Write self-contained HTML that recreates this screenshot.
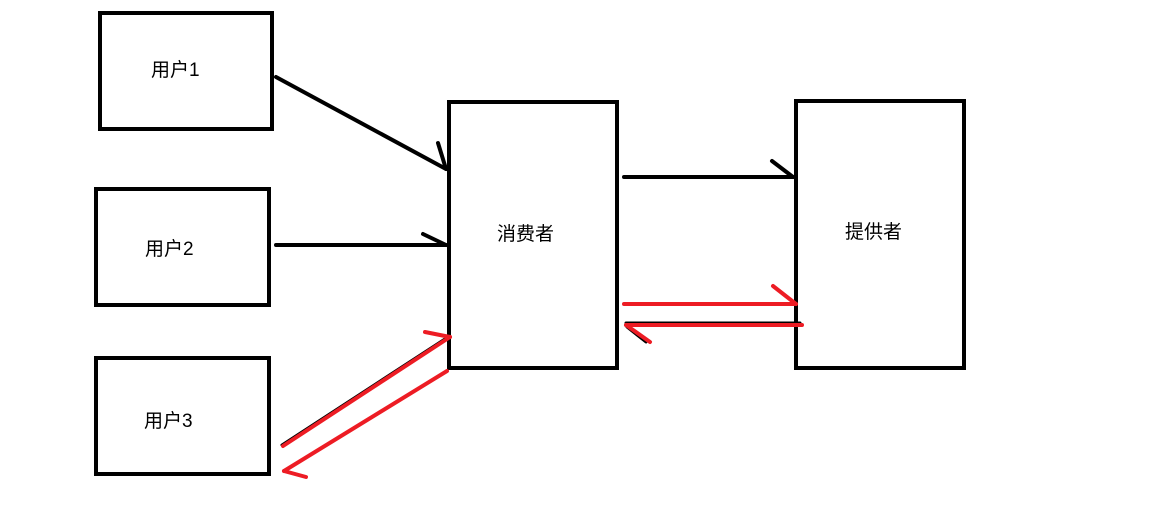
<!DOCTYPE html>
<html><head><meta charset="utf-8"><style>
html,body{margin:0;padding:0;background:#fff;}
svg{display:block;}
text{font-family:"Liberation Sans","Noto Sans CJK SC",sans-serif;font-size:19px;fill:#000;}
</style></head><body>
<svg width="1153" height="513" viewBox="0 0 1153 513" xmlns="http://www.w3.org/2000/svg">
<g fill="none" stroke="#000" stroke-width="4">
<rect x="100" y="13" width="172" height="116"/>
<rect x="96" y="189" width="173" height="116"/>
<rect x="96" y="358" width="173" height="116"/>
<rect x="449" y="102" width="168" height="266"/>
<rect x="796" y="101" width="168" height="267"/>
</g>
<g fill="none" stroke="#000" stroke-width="4" stroke-linecap="round" stroke-linejoin="round">
<line x1="276" y1="77" x2="446" y2="169"/>
<polyline points="438,143 446,169"/>
<line x1="276" y1="245" x2="446" y2="245"/>
<polyline points="423,234 446,245"/>
<line x1="624" y1="177" x2="793" y2="177"/>
<polyline points="772,161 793,177"/>
<line x1="282" y1="445" x2="448" y2="337" stroke-width="3"/>
<line x1="626" y1="323" x2="800" y2="323" stroke-width="3"/>
<line x1="627" y1="327" x2="646" y2="342" stroke-width="3"/>
</g>
<g fill="none" stroke="#ed1c24" stroke-width="4" stroke-linecap="round" stroke-linejoin="round">
<line x1="283" y1="446" x2="450" y2="337"/>
<polyline points="425,332 450,337"/>
<line x1="447" y1="371" x2="284" y2="471"/>
<polyline points="284,471 306,477"/>
<line x1="624" y1="304" x2="796" y2="304"/>
<polyline points="773,286 796,304"/>
<line x1="802" y1="325" x2="626" y2="325"/>
<polyline points="626,325 650,342"/>
</g>
<text x="151" y="76">用户1</text>
<text x="145" y="255">用户2</text>
<text x="144" y="427">用户3</text>
<text x="497" y="240">消费者</text>
<text x="845" y="238">提供者</text>
</svg>
</body></html>
